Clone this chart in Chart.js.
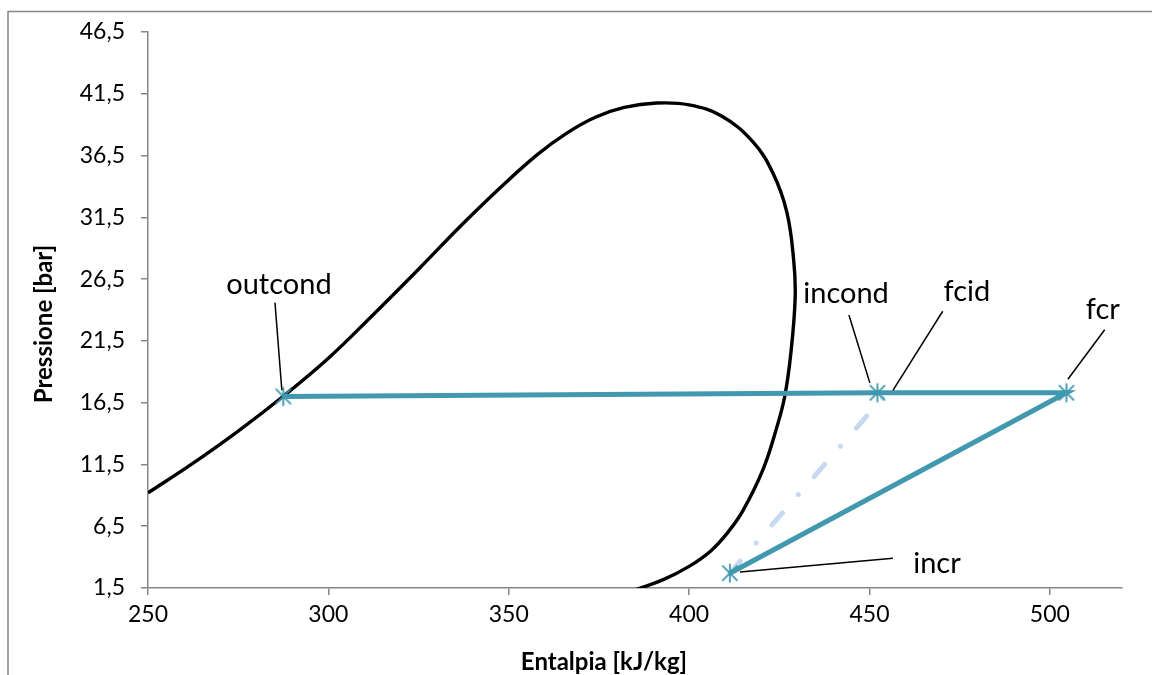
<!DOCTYPE html>
<html>
<head>
<meta charset="utf-8">
<script src="https://cdn.jsdelivr.net/npm/chart.js@4"></script>
<style>
  html, body { margin: 0; padding: 0; background: #fff; }
  #wrap { width: 1152px; height: 675px; position: relative; }
</style>
</head>
<body>
<div id="wrap"><canvas id="ph-chart"></canvas></div>
<script>
"use strict";

// saturation dome (enthalpy kJ/kg, pressure bar)
const domeH = [250, 262, 275, 287.4, 300, 312, 325, 337, 348, 358, 366, 374, 382, 391, 400, 409, 417.7, 423.2, 427.1, 429.0, 429.4, 428.2, 426.5, 424.3, 420.5, 415.0, 411, 406, 400, 393, 385, 378];
const domeP = [9.2, 11.5, 14.2, 17.0, 20.1, 23.5, 27.3, 30.9, 34.0, 36.6, 38.3, 39.6, 40.4, 40.75, 40.6, 39.7, 37.6, 35.1, 31.9, 28.0, 25.0, 20.5, 17.0, 14.5, 11.1, 7.8, 6.1, 4.5, 3.25, 2.2, 1.35, 0.8];

// real cycle: outcond -> incond -> fcr -> incr
const cycleH = [287.5, 452.2, 504.6, 411.3];
const cycleP = [17.0, 17.3, 17.3, 2.7];

// ideal compression: incr -> fcid
const idealH = [411.3, 454.0];
const idealP = [2.7, 17.0];

const xTicks = [250, 300, 350, 400, 450, 500];
const yTicks = [1.5, 6.5, 11.5, 16.5, 21.5, 26.5, 31.5, 36.5, 41.5, 46.5];

// point labels: text centre and leader line (start near text, end near marker)
const labelNames = ["outcond", "incond", "fcid", "fcr", "incr"];
const labelH = [286.3, 443.5, 477.0, 514.7, 468.7];
const labelP = [26.05, 25.3, 25.5, 24.0, 3.5];
const leadFromH = [285.2, 444.3, 470.3, 515.2, 456.5];
const leadFromP = [24.6, 23.6, 23.9, 22.4, 3.9];
const leadToH = [287.1, 450.1, 456.5, 505.0, 414.1];
const leadToP = [17.5, 18.1, 17.5, 18.4, 2.8];

const xTitle = "Entalpia [kJ/kg]";
const yTitle = "Pressione [bar]";

const teal = "#4198af";
const axisGray = "#868686";

function toPoints(xs, ys) {
  return xs.map((x, i) => ({ x: x, y: ys[i] }));
}

// excel style star marker: X with a vertical stroke
function starMarker(size, color) {
  const c = document.createElement("canvas");
  c.width = size;
  c.height = size;
  const g = c.getContext("2d");
  const m = size / 2, r = size / 2 - 1.5;
  g.strokeStyle = color;
  g.lineWidth = 1.8;
  g.beginPath();
  g.moveTo(m - r * 0.8, m - r * 0.8); g.lineTo(m + r * 0.8, m + r * 0.8);
  g.moveTo(m + r * 0.8, m - r * 0.8); g.lineTo(m - r * 0.8, m + r * 0.8);
  g.moveTo(m, m - r); g.lineTo(m, m + r);
  g.stroke();
  return c;
}

// outer chart frame + axis titles (excel centres the x title left of the plot middle)
const frame = {
  id: "frame",
  beforeDraw(chart) {
    const ctx = chart.ctx;
    ctx.save();
    ctx.strokeStyle = axisGray;
    ctx.lineWidth = 1.5;
    ctx.beginPath();
    ctx.moveTo(8, 675);
    ctx.lineTo(8, 11.5);
    ctx.lineTo(1152, 11.5);
    ctx.stroke();

    ctx.fillStyle = "#000";
    ctx.font = "bold 24px Lato";
    ctx.textAlign = "center";
    ctx.textBaseline = "middle";
    ctx.fillText(xTitle, 604, 662);
    ctx.translate(44, 324);
    ctx.rotate(-Math.PI / 2);
    ctx.fillText(yTitle, 0, 0);
    ctx.restore();
  }
};

const pointLabels = {
  id: "pointLabels",
  afterDatasetsDraw(chart) {
    const ctx = chart.ctx;
    const xs = chart.scales.x, ys = chart.scales.y;
    ctx.save();
    ctx.strokeStyle = "#000";
    ctx.lineWidth = 1.5;
    labelNames.forEach((name, i) => {
      ctx.beginPath();
      ctx.moveTo(xs.getPixelForValue(leadFromH[i]), ys.getPixelForValue(leadFromP[i]));
      ctx.lineTo(xs.getPixelForValue(leadToH[i]), ys.getPixelForValue(leadToP[i]));
      ctx.stroke();
    });
    ctx.fillStyle = "#000";
    ctx.font = "29px Lato";
    ctx.textAlign = "center";
    ctx.textBaseline = "middle";
    labelNames.forEach((name, i) => {
      ctx.fillText(name, xs.getPixelForValue(labelH[i]), ys.getPixelForValue(labelP[i]));
    });
    ctx.restore();
  }
};

const ctx = document.getElementById("ph-chart").getContext("2d");
const phChart = new Chart(ctx, {
  type: "scatter",
  data: {
    datasets: [
      {
        label: "ciclo reale",
        data: toPoints(cycleH, cycleP),
        showLine: true,
        borderColor: teal,
        borderWidth: 5,
        pointStyle: starMarker(22, teal),
        pointRadius: 10,
        tension: 0,
      },
      {
        label: "compressione ideale",
        data: toPoints(idealH, idealP),
        showLine: true,
        borderColor: "#c6d9f1",
        borderWidth: 5,
        borderDash: [16, 24, 0.1, 24],
        borderCapStyle: "round",
        pointRadius: 0,
        tension: 0,
      },
      {
        label: "curva limite",
        data: toPoints(domeH, domeP),
        showLine: true,
        borderColor: "#000",
        borderWidth: 3.4,
        pointRadius: 0,
        tension: 0.4,
      },
    ],
  },
  options: {
    responsive: true,
    maintainAspectRatio: false,
    animation: false,
    layout: { padding: { left: 29, top: 32, right: 30, bottom: 0 } },
    plugins: {
      legend: { display: false },
      tooltip: { enabled: false },
    },
    scales: {
      x: {
        type: "linear",
        min: 250,
        max: 520,
        afterBuildTicks: (s) => { s.ticks = xTicks.map((v) => ({ value: v })); },
        afterFit: (s) => { s.height = 87; },
        ticks: {
          color: "#000",
          font: { family: "Lato", size: 23 },
          padding: 6,
          maxRotation: 0,
        },
        grid: { drawOnChartArea: false, color: axisGray, tickLength: 7, lineWidth: 1.5 },
        border: { color: axisGray, width: 1.5 },
      },
      y: {
        type: "linear",
        min: 1.5,
        max: 46.5,
        afterBuildTicks: (s) => { s.ticks = yTicks.map((v) => ({ value: v })); },
        afterFit: (s) => { s.width = 119; },
        ticks: {
          color: "#000",
          font: { family: "Lato", size: 23 },
          padding: 16,
          callback: (v) => v.toFixed(1).replace(".", ","),
        },
        grid: { drawOnChartArea: false, color: axisGray, tickLength: 7, lineWidth: 1.5 },
        border: { color: axisGray, width: 1.5 },
      },
    },
  },
  plugins: [frame, pointLabels],
});
</script>
</body>
</html>
